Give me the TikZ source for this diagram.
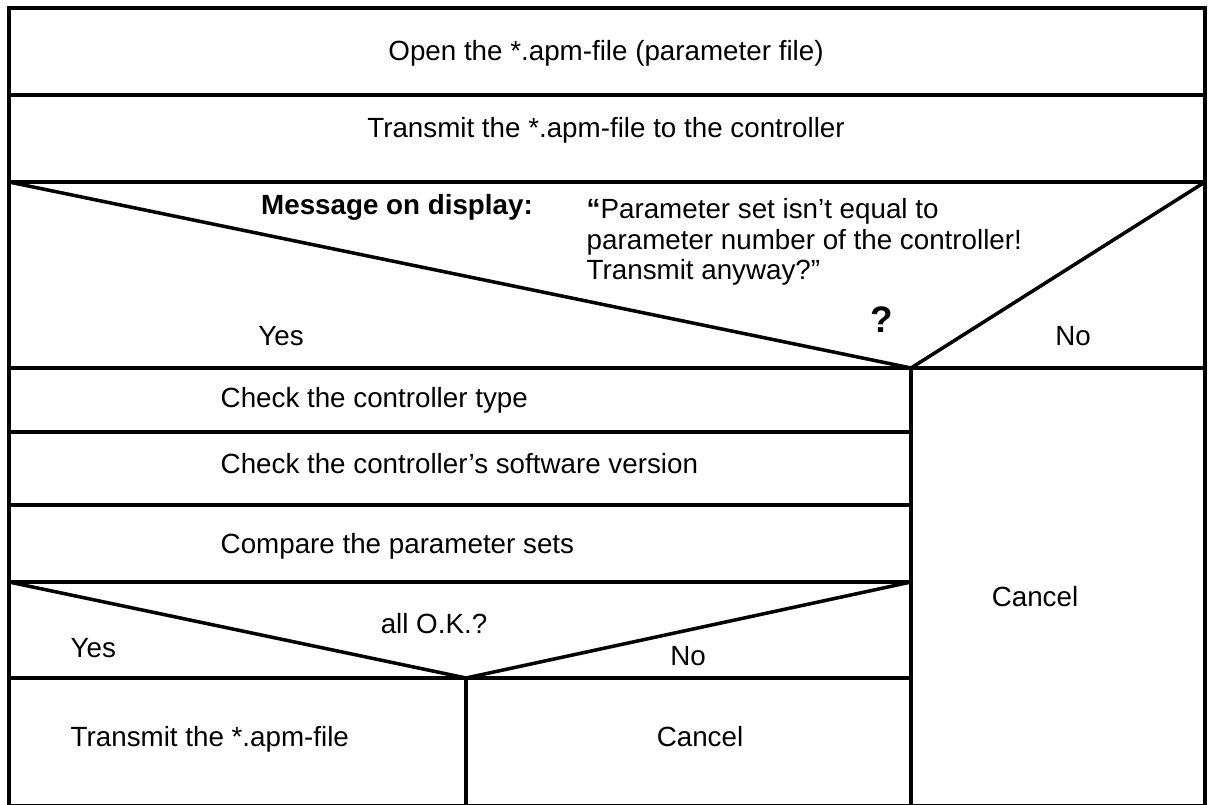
\documentclass[tikz,border=0pt]{standalone}
\usepackage{fontspec}
\setmainfont{Liberation Sans}
\usetikzlibrary{positioning}
\tikzstyle{rule}=[draw,line width=1pt]
\tikzstyle{txt}=[inner sep=0pt,font=\fontsize{7.9}{8.7}\selectfont]
\tikzstyle{lefttxt}=[txt,anchor=base west]
\tikzstyle{midtxt}=[txt,anchor=base]

\begin{document}
\begin{tikzpicture}[x=0.1mm,y=-0.1mm]
    \useasboundingbox (0,0) rectangle (1208,805);
    % Corners of the frame and the tips of the two decisions
    \coordinate (tl) at (9,8);
    \coordinate (br) at (1205,806);
    \coordinate (tip1) at (911,368);
    \coordinate (tip2) at (466,678);
    \draw[rule] (tl) rectangle (br);
    % Full width bars
    \foreach \y in {95,182,368}
        \draw[rule] (9,\y) -- (1205,\y);
    % Bars of the yes branch
    \foreach \y in {432,505,582,678}
        \draw[rule] (9,\y) -- (911,\y);
    % Decision triangles
    \draw[rule] (9,182) -- (tip1) -- (1205,182);
    \draw[rule] (9,582) -- (tip2) -- (911,582);
    % Branch separators
    \draw[rule] (tip1) -- (911,806);
    \draw[rule] (tip2) -- (466,806);
    % Now the texts
    \node[midtxt] (open) at (606,61) {Open the *.apm-file (parameter file)};
    \node[midtxt] (send) at (606,138) {Transmit the *.apm-file to the controller};
    \node[midtxt,font=\fontsize{7.9}{8.7}\selectfont\bfseries] (msg) at (397,215) {Message on display:};
    \node[txt,anchor=north west,align=left] (quote) at (586,198)
        {{\bfseries “}Parameter set isn’t equal to\\parameter number of the controller!\\Transmit anyway?”};
    \node[midtxt,font=\fontsize{10.5}{12}\selectfont\bfseries] (ask) at (882,333) {?};
    \node[midtxt] (yes1) at (281,345) {Yes};
    \node[midtxt] (no1) at (1073,345) {No};
    \node[lefttxt] (type) at (220,408) {Check the controller type};
    \node[lefttxt] (soft) at (220,474) {Check the controller’s software version};
    \node[lefttxt] (cmp) at (220,553) {Compare the parameter sets};
    \node[midtxt] (ok) at (434,633) {all O.K.?};
    \node[lefttxt] (yes2) at (70,657) {Yes};
    \node[midtxt] (no2) at (688,665) {No};
    \node[lefttxt] (xmit) at (70,746) {Transmit the *.apm-file};
    \node[midtxt] (cancel2) at (700,746) {Cancel};
    \node[midtxt] (cancel1) at (1035,606) {Cancel};
\end{tikzpicture}
\end{document}
